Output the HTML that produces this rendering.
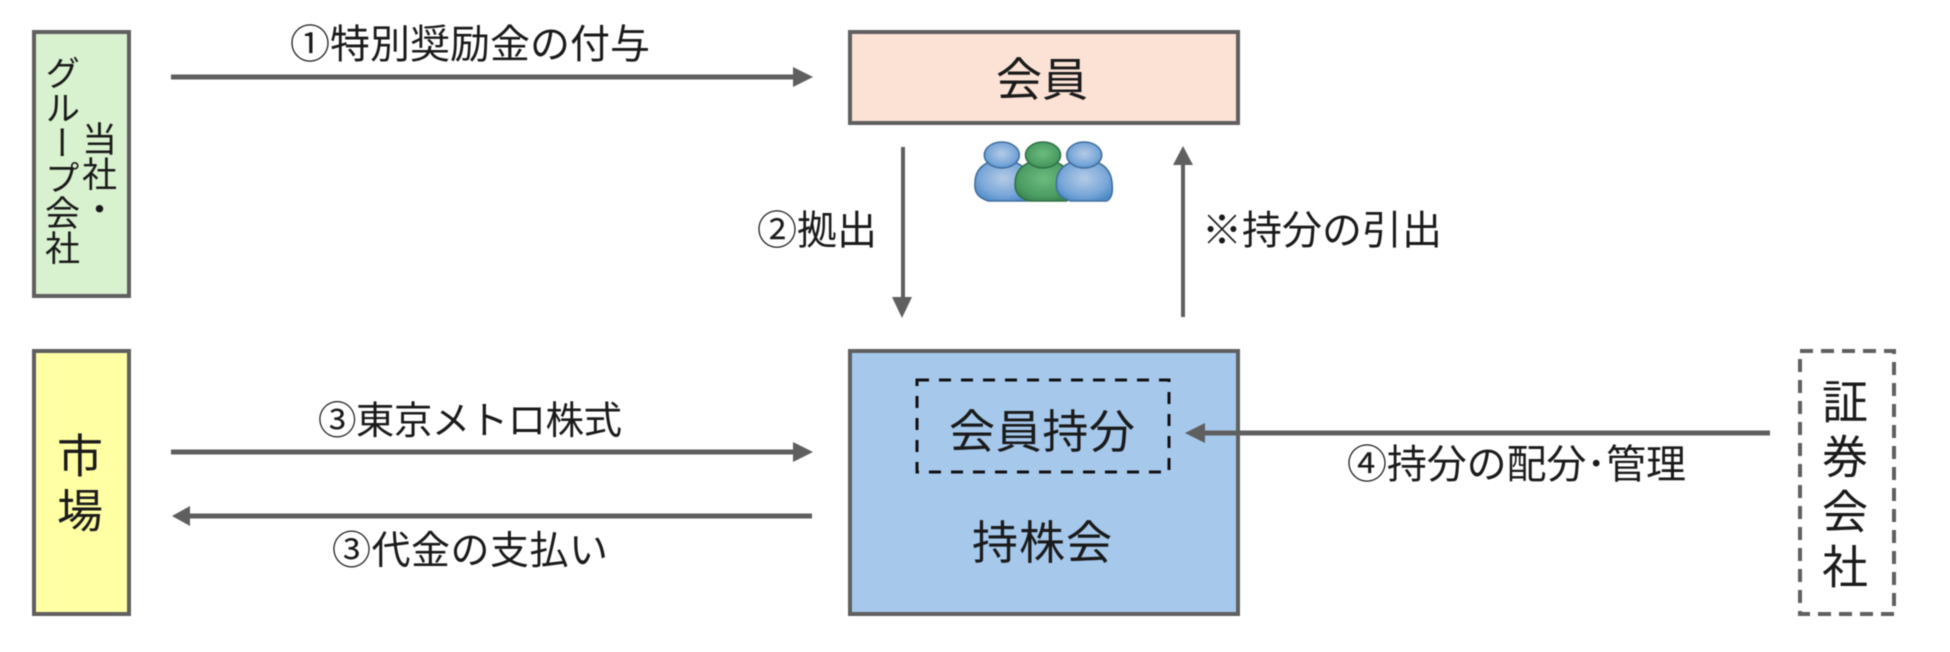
<!DOCTYPE html>
<html lang="ja">
<head>
<meta charset="utf-8">
<title>持株会</title>
<style>
html,body{margin:0;padding:0;background:#fff;}
#wrap{position:relative;width:1950px;height:652px;overflow:hidden;background:#fff;filter:blur(0.5px);font-family:"Liberation Sans","Noto Sans CJK JP",sans-serif;color:#1a1a1a;}
svg{position:absolute;left:0;top:0;}
svg text{font-family:"Liberation Sans","Noto Sans CJK JP",sans-serif;fill:#1a1a1a;}
.v{position:absolute;writing-mode:vertical-rl;white-space:nowrap;line-height:1;}
</style>
</head>
<body>
<div id="wrap">
<svg width="1950" height="652" viewBox="0 0 1950 652" xmlns="http://www.w3.org/2000/svg">
<defs>
<radialGradient id="b" cx="50%" cy="45%" r="60%"><stop offset="0" stop-color="#B5CBE6"/><stop offset="0.7" stop-color="#78A6D8"/><stop offset="1" stop-color="#4F8CC8"/></radialGradient>
<radialGradient id="g" cx="50%" cy="45%" r="60%"><stop offset="0" stop-color="#6DBB7E"/><stop offset="0.75" stop-color="#4A9C62"/><stop offset="1" stop-color="#3B8450"/></radialGradient>
</defs>
<!-- boxes -->
<rect x="34" y="32" width="95" height="264" fill="#D8F1CE" stroke="#5F5F5F" stroke-width="4"/>
<rect x="34" y="351" width="95" height="263" fill="#FFFFA3" stroke="#5F5F5F" stroke-width="4"/>
<rect x="850" y="32" width="388" height="91" fill="#FBE2D5" stroke="#5F5F5F" stroke-width="4"/>
<rect x="850" y="351" width="388" height="263" fill="#A5C8EB" stroke="#5F5F5F" stroke-width="4"/>
<rect x="917" y="380" width="252" height="92" fill="none" stroke="#111" stroke-width="3" stroke-dasharray="12 10"/>
<rect x="1800" y="351" width="94" height="263" fill="#fff" stroke="#5F5F5F" stroke-width="4" stroke-dasharray="13 8"/>
<!-- arrows -->
<g fill="#5F5F5F" stroke="none">
<rect x="171" y="74.500" width="622" height="5"/><polygon points="793,67 793,87 813,77"/>
<rect x="171" y="449.500" width="622" height="5"/><polygon points="793,442 793,462 813,452"/>
<rect x="190" y="513.500" width="622" height="5"/><polygon points="190,506 190,526 172,516"/>
<rect x="1205" y="430.500" width="565" height="5"/><polygon points="1205,423 1205,443 1185,433"/>
<rect x="905" y="147" width="4" height="152" transform="translate(-4 0)"/><polygon points="893,297 913,297 903,318" transform="translate(-1 0)"/>
<rect x="1187" y="164" width="4" height="153" transform="translate(-6 0)"/><polygon points="1179,165 1199,165 1189,146" transform="translate(-6 0)"/>
</g>
<!-- people -->
<g transform="translate(1043 0) scale(1.03 1) translate(-1043 0)">
<g stroke="#3F6E9C" stroke-width="1.500">
<path d="M977 183C977 168 988 160 1003 160C1018 160 1030 168 1032 183C1033 192 1032 198 1028 201L990 201C980 198 976 192 977 183Z" fill="url(#b)"/>
<ellipse cx="1003" cy="155" rx="17" ry="13" fill="url(#b)"/>
</g>
<g stroke="#2F7044" stroke-width="1.500">
<path d="M1016 183C1016 168 1028 160 1043 160C1058 160 1070 168 1071 183C1072 192 1070 198 1066 201L1030 201C1020 198 1015 192 1016 183Z" fill="url(#g)"/>
<ellipse cx="1043" cy="155" rx="17" ry="13" fill="url(#g)"/>
</g>
<g stroke="#3F6E9C" stroke-width="1.500">
<path d="M1056 183C1056 168 1068 160 1083 160C1098 160 1109 168 1110 183C1111 192 1110 198 1105 201L1070 201C1060 198 1055 192 1056 183Z" fill="url(#b)"/>
<ellipse cx="1083" cy="155" rx="17" ry="13" fill="url(#b)"/>
</g>
</g>
<!-- labels -->
<text x="290" y="58" font-size="40" textLength="360" lengthAdjust="spacing">①特別奨励金の付与</text>
<text x="757" y="244" font-size="40" textLength="120" lengthAdjust="spacing">②拠出</text>
<text x="1202" y="244" font-size="40" textLength="240" lengthAdjust="spacing">※持分の引出</text>
<text x="318" y="434" font-size="38.500" textLength="304" lengthAdjust="spacing">③東京メトロ株式</text>
<text x="332" y="564" font-size="39" textLength="276" lengthAdjust="spacing">③代金の支払い</text>
<text x="1347" y="478" font-size="40" textLength="339" lengthAdjust="spacing">④持分の配分･管理</text>
<text x="996" y="96" font-size="46" textLength="92" lengthAdjust="spacing">会員</text>
<text x="949" y="448" font-size="46" textLength="186" lengthAdjust="spacing">会員持分</text>
<text x="972" y="559" font-size="46" textLength="140" lengthAdjust="spacing">持株会</text>
</svg>
<div class="v" style="left:79px;top:121px;font-size:35px;">当社・</div>
<div class="v" style="left:42px;top:55px;font-size:35px;">グループ会社</div>
<div class="v" style="left:54px;top:432px;font-size:46px;letter-spacing:9px;">市場</div>
<div class="v" style="left:1819px;top:378px;font-size:46px;letter-spacing:9px;">証券会社</div>
</div>
</body>
</html>
